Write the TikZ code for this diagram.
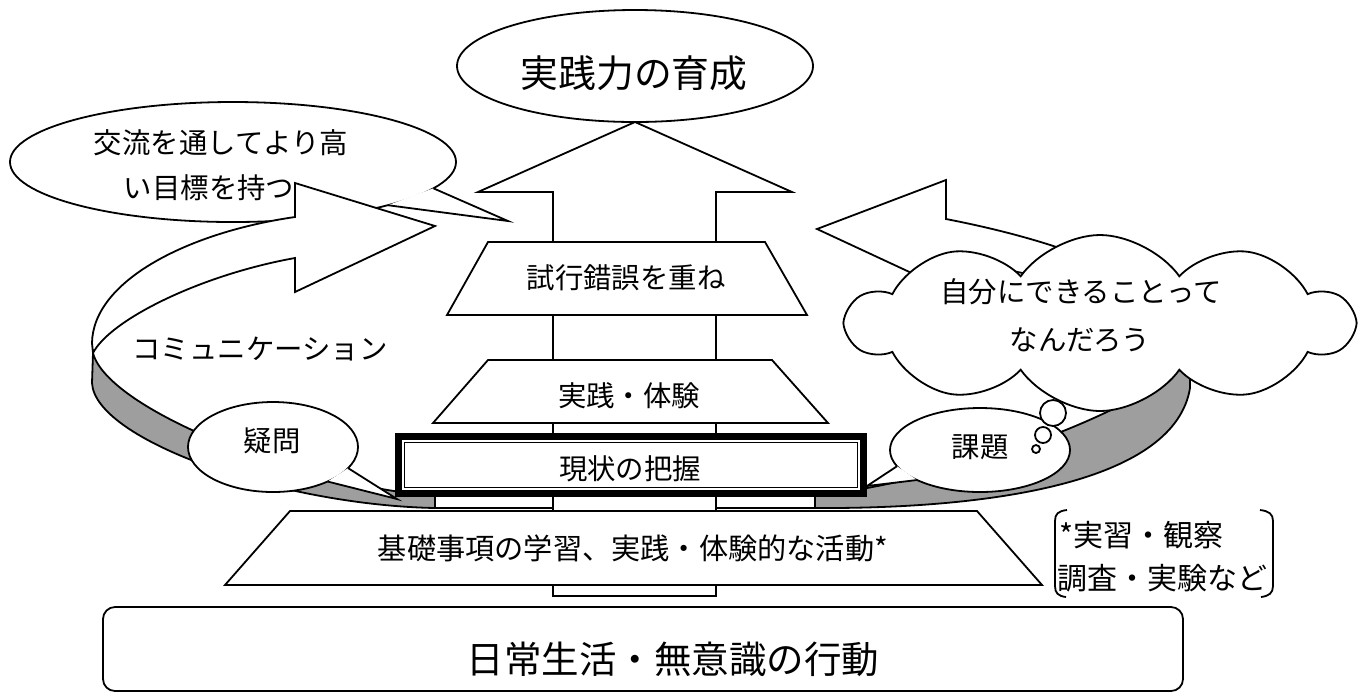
\documentclass[tikz,border=0pt]{standalone}
\usepackage{fontspec}
\setmainfont{Noto Sans CJK JP}
\usetikzlibrary{shapes.geometric,shapes.symbols}
\begin{document}
\begin{tikzpicture}[x=0.5pt,y=-0.5pt,line width=0.9pt,line join=miter,
  txt/.style={inner sep=0pt,font=\fontsize{14.2pt}{17pt}\selectfont},
  big/.style={inner sep=0pt,font=\fontsize{18.9pt}{22pt}\selectfont},
  shadeband/.style={fill=black!38,draw=black},
  face/.style={fill=white,draw=black}]
\useasboundingbox (0,0) rectangle (1358,693);

% speech bubble (exchange)
\draw[face] (233,162) ellipse [x radius=223, y radius=60];
\coordinate (jb1) at (433.4,188.3);
\coordinate (jb2) at (387.9,205.2);
\coordinate (jtip) at (508,221);
\fill[white] (jb1) -- (jtip) -- (jb2) -- cycle;
\draw (jb1) -- (jtip) -- (jb2);
\node[txt] (jl1) at (221,143) {交流を通してより高};
\node[txt] (jl2) at (209,188) {い目標を持つ};

% goal ellipse
\node[ellipse,draw,fill=white,minimum width=178pt,minimum height=56pt,inner sep=0pt] (goal) at (635,66) {};
\node[big] (goalt) at (634,73) {実践力の育成};

% left ribbon
\path[shadeband] (93,353) .. controls (108,410) and (300,485) .. (435,496) -- (435,508)
   .. controls (280,505) and (95,440) .. (92,383) -- cycle;
\path[face] (295,258) -- (295,292) -- (435,226) -- (295,183) -- (295,217)
   .. controls (190,232) and (93,280) .. (92,343) -- (93,353)
   .. controls (110,320) and (200,275) .. (295,258) -- cycle;

% right ribbon
\path[shadeband] (1190,362) .. controls (1120,420) and (950,480) .. (815,496) -- (815,508)
   .. controls (1000,509) and (1175,480) .. (1190,388) -- cycle;
\path[face] (946,260) -- (946,289) -- (817,229) -- (946,180) -- (946,219)
   .. controls (1080,245) and (1190,290) .. (1192,352) -- (1190,362)
   .. controls (1185,310) and (1060,275) .. (946,260) -- cycle;

% ribbon ends strip
\draw[face] (435,496) rectangle (815,508);

% central arrow
\draw[face] (635,122) -- (792,192) -- (716,192) -- (716,596) -- (553,596) -- (553,192) -- (478,192) -- cycle;

% trapezoids
\draw[face] (488,242) -- (765,242) -- (807,315) -- (447,315) -- cycle;
\node[txt] (t1) at (626,278) {試行錯誤を重ね};
\draw[face] (488,360) -- (772,360) -- (828,423) -- (433,423) -- cycle;
\node[txt] (t2) at (629,396) {実践・体験};
\draw[face] (290,511) -- (977,511) -- (1042,585) -- (225,585) -- cycle;
\node[txt,font=\fontsize{14.6pt}{17pt}\selectfont] (t4) at (633,548) {基礎事項の学習、実践・体験的な活動*};

% current state box
\draw[fill=white,line width=3.5pt] (398.5,436.5) rectangle (863.5,493.5);
\draw[line width=0.7pt] (404.5,442.5) rectangle (857.5,487.5);
\node[txt] (t3) at (630,469) {現状の把握};

% cloud
\node[cloud,draw,fill=white,cloud puffs=10,cloud puff arc=110,aspect=2.9,
      minimum width=252pt,minimum height=88pt,inner sep=0pt] (cloud) at (1100,323) {};
\node[txt] (c1) at (1081,292) {自分にできることって};
\node[txt] (c2) at (1080,340) {なんだろう};

% question bubble
\draw[face] (273,447) ellipse [x radius=85, y radius=45];
\fill[white] (348.1,468.1) -- (397,499) -- (327.6,481.5) -- cycle;
\draw (348.1,468.1) -- (397,499) -- (327.6,481.5);
\node[txt] (q) at (272,441) {疑問};

% task bubble
\draw[face] (980,450) ellipse [x radius=90, y radius=42];
\fill[white] (897,466.2) -- (867,486) -- (917,480) -- cycle;
\draw (897,466.2) -- (867,486) -- (917,480);
\node[txt] (k) at (980,447) {課題};
\draw[face] (1053,413) circle [radius=13];
\draw[face] (1043,435) circle [radius=8];
\draw[face] (1036,449) circle [radius=4];

% communication label
\node[txt] (comm) at (260,349) {コミュニケーション};

% daily life box
\node[draw,rounded corners=6pt,minimum width=540pt,minimum height=42pt,inner sep=0pt] (daily) at (643,649) {};
\node[big,font=\fontsize{18.75pt}{22pt}\selectfont] (dailyt) at (673,659) {日常生活・無意識の行動};

% bracket note
\draw (1067,510) .. controls (1058,511) and (1055,514) .. (1055,521) -- (1055,586)
   .. controls (1055,593) and (1058,596) .. (1066,597);
\draw (1260,510) .. controls (1269,511) and (1273,514) .. (1273,521) -- (1273,586)
   .. controls (1273,593) and (1269,596) .. (1261,597);
\node[txt,anchor=west,font=\fontsize{15pt}{17pt}\selectfont] (n1) at (1059,535) {*実習・観察};
\node[txt,anchor=west,font=\fontsize{15pt}{17pt}\selectfont] (n2) at (1057,578) {調査・実験など};
\end{tikzpicture}
\end{document}
